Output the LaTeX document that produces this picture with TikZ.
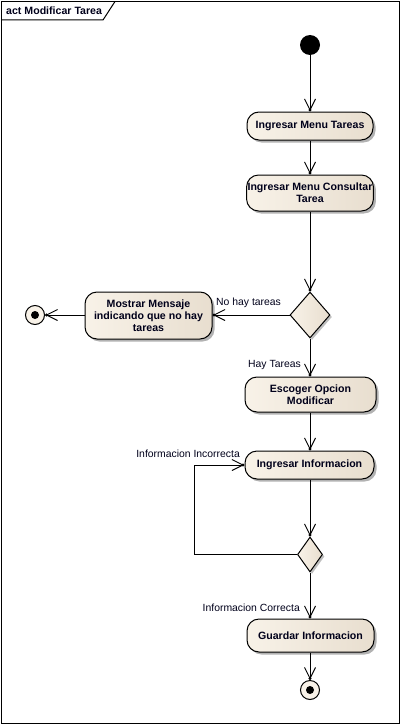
\documentclass[tikz,border=0pt]{standalone}
\usepackage{fontspec}
\setmainfont{Liberation Sans}
\usetikzlibrary{arrows.meta,shapes.geometric,shadows}
\definecolor{boxL}{HTML}{F8F2E8}
\definecolor{boxR}{HTML}{E8DECF}
\definecolor{txt}{HTML}{00001A}
\tikzset{
  actbox/.style={draw=black, line width=1pt, rounded corners=12pt, left color=boxL, right color=boxR,
    align=center, font=\fontsize{10.6}{12}\selectfont\bfseries, text=txt, inner sep=1pt,
    drop shadow={shadow xshift=2.5pt, shadow yshift=-2.5pt, fill=black, opacity=0.3}},
  decbox/.style={diamond, draw=black, line width=1pt, left color=boxL, right color=boxR, inner sep=0pt,
    drop shadow={shadow xshift=2pt, shadow yshift=-2pt, fill=black, opacity=0.25}},
  finalnode/.style={circle, draw=black, line width=1pt, fill=boxL, minimum size=19pt, inner sep=0pt},
  startnode/.style={circle, fill=black, minimum size=20pt, inner sep=0pt},
  dotnode/.style={circle, fill=black, minimum size=8pt, inner sep=0pt},
  flow/.style={draw=black, line width=1pt, -{Straight Barb[length=11pt,width=11pt,line width=1pt,sep=-2.5pt] Circle[length=3pt]}},
  lbl/.style={font=\fontsize{10.4}{12}\selectfont, text=txt, inner sep=0pt}
}
\begin{document}
\begin{tikzpicture}[x=1pt,y=-1pt]
\useasboundingbox (0,0) rectangle (401,725);
% frame
\draw[line width=1pt] (1.5,1.5) rectangle (399.5,723.5);
\draw[line width=1pt] (1.5,20) -- (103,20) -- (115,1.5);
\node[lbl, font=\fontsize{10.6}{12}\selectfont\bfseries, anchor=west] (title) at (6,11) {act Modificar Tarea};

% nodes
\node[startnode] (start) at (310,45) {};
\node[actbox, minimum width=126pt, minimum height=28pt] (a1) at (310,126) {Ingresar Menu Tareas};
\node[actbox, minimum width=126pt, minimum height=36pt] (a2) at (310,193) {Ingresar Menu Consultar\\Tarea};
\node[decbox, minimum width=40pt, minimum height=46pt] (d1) at (310,315) {};
\node[actbox, minimum width=127pt, minimum height=47pt] (a3) at (148.5,315.5) {Mostrar Mensaje\\indicando que no hay\\tareas};
\node[finalnode] (f1) at (35,315) {};
\node[dotnode] (f1d) at (35,315) {};
\node[actbox, minimum width=131pt, minimum height=35pt] (a4) at (310.5,394.5) {Escoger Opcion\\Modificar};
\node[actbox, minimum width=129pt, minimum height=28pt] (a5) at (309.5,465) {Ingresar Informacion};
\node[decbox, minimum width=25pt, minimum height=35pt] (d2) at (310,554.5) {};
\node[actbox, minimum width=127pt, minimum height=33pt] (a6) at (310.5,635.5) {Guardar Informacion};
\node[finalnode] (f2) at (310,690) {};
\node[dotnode] (f2d) at (310,690) {};
\coordinate (lp) at (194,554.5);

% connectors
\draw[flow] (start) -- (a1.north -| start);
\draw[flow] (a1.south -| start) -- (a2.north -| start);
\draw[flow] (a2.south -| start) -- (d1.north);
\draw[flow] (d1.west) -- (a3.east |- d1.west);
\draw[flow] (a3.west |- f1) -- (f1);
\draw[flow] (d1.south) -- (a4.north -| d1.south);
\draw[flow] (a4.south -| d1.south) -- (a5.north -| d1.south);
\draw[flow] (a5.south -| d1.south) -- (d2.north);
\draw[flow] (d2.west) -- (lp) |- (a5.west);
\draw[flow] (d2.south) -- (a6.north -| d2.south);
\draw[flow] (a6.south -| d2.south) -- (f2);

% labels
\node[lbl, anchor=west] (l1) at (216,303) {No hay tareas};
\node[lbl, anchor=east] (l2) at (301,365) {Hay Tareas};
\node[lbl, anchor=east] (l3) at (240,454) {Informacion Incorrecta};
\node[lbl, anchor=east] (l4) at (300,608) {Informacion Correcta};
\end{tikzpicture}
\end{document}
